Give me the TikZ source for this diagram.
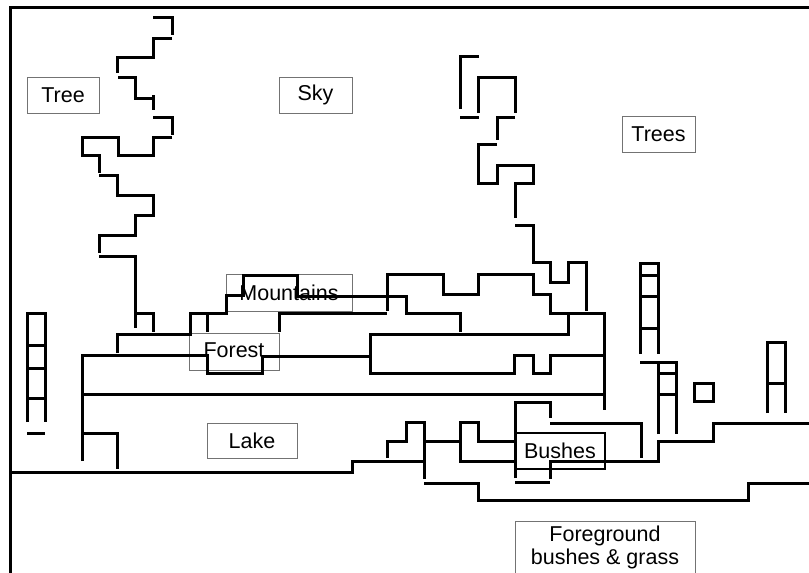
\documentclass[tikz,border=0pt]{standalone}
\usepackage{fontspec}
\setmainfont{Liberation Sans}
\begin{document}
\begin{tikzpicture}[x=1pt,y=-1pt,line width=3pt,line join=miter,
				outline/.style={draw=black,line width=3pt},
				lbl/.style={draw=black!55,line width=0.9pt,inner sep=0pt,font=\fontsize{21.5}{23}\selectfont},
				lblbush/.style={lbl,draw=black,line width=2.2pt}]
				
				\useasboundingbox (0,0) rectangle (809,573);
				
				\node[lbl,minimum width=72,minimum height=36] (tree) at (63,95) {Tree};
				\node[lbl,minimum width=73,minimum height=36] (sky) at (315.5,95) {Sky};
				\node[lbl,minimum width=73,minimum height=36] (trees) at (658.5,134) {Trees};
				\node[lbl,minimum width=126,minimum height=37] (mountains) at (289,292.5) {Mountains};
				\node[lbl,minimum width=90,minimum height=37] (forest) at (234,351.5) {\raisebox{2pt}{Forest}};
				\node[lbl,minimum width=90,minimum height=35] (lake) at (252,440.5) {Lake};
				\node[lblbush,minimum width=90,minimum height=36] (bushes) at (560,451) {Bushes};
				\node[inner sep=0pt,align=center,font=\fontsize{21.5}{23}\selectfont] (fground) at (605,547) {Foreground\\bushes \& grass};
				\draw[lbl] (515,580) -- (515,521) -- (695,521) -- (695,580);
				
				\draw[outline] (10,573) -- (10,7) -- (809,7);
				\draw[outline] (10,472) -- (352,472) -- (352,461) -- (424,461);
				
				\draw[outline] (153,17) -- (172,17) -- (172,35);
				\draw[outline] (172,38) -- (153,38) -- (153,57) -- (117,57) -- (117,73);
				\draw[outline] (118,77) -- (135,77) -- (135,98) -- (153,98);
				\draw[outline] (153,95) -- (153,110);
				\draw[outline] (153,117) -- (172,117) -- (172,135);
				\draw[outline] (172,137) -- (153,137) -- (153,155) -- (118,155) -- (118,137) -- (82,137) -- (82,155) -- (99,155) -- (99,173);
				\draw[outline] (99,175) -- (117,175) -- (117,195) -- (153,195) -- (153,215) -- (135,215) -- (135,235) -- (99,235) -- (99,253);
				\draw[outline] (99,256) -- (135,256) -- (135,328);
				\draw[outline] (135,313) -- (153,313) -- (153,332);
				
				\draw[outline] (117,353) -- (117,334) -- (190,334) -- (190,313) -- (226,313) -- (226,295) -- (243,295) -- (243,275) -- (297,275) -- (297,296) -- (406,296) -- (406,313) -- (460,313) -- (460,332);
				\draw[outline] (207,313) -- (207,332);
				\draw[outline] (279,332) -- (279,313) -- (387,313);
				\draw[outline] (387,311) -- (387,274) -- (443,274) -- (443,294) -- (478,294) -- (478,274) -- (533,274) -- (533,294) -- (550,294) -- (550,313) -- (604,313) -- (604,410);
				
				\draw[outline] (82,461) -- (82,355) -- (207,355) -- (207,373) -- (262,373) -- (262,356) -- (370,356);
				\draw[outline] (568,313) -- (568,334) -- (370,334) -- (370,373) -- (514,373) -- (514,355) -- (533,355) -- (533,373) -- (550,373) -- (550,355) -- (604,355);
				\draw[outline] (82,394) -- (604,394);
				\draw[outline] (82,433) -- (117,433) -- (117,469);
				
				\draw[outline] (479,56) -- (460,56) -- (460,109);
				\draw[outline] (460,117) -- (479,117);
				\draw[outline] (478,113) -- (478,77) -- (515,77) -- (515,113);
				\draw[outline] (515,117) -- (497,117) -- (497,140);
				\draw[outline] (497,144) -- (478,144) -- (478,183) -- (497,183) -- (497,165) -- (533,165) -- (533,183) -- (515,183) -- (515,218);
				\draw[outline] (515,225) -- (533,225) -- (533,262) -- (550,262) -- (550,282) -- (568,282) -- (568,262) -- (586,262) -- (586,311);
				
				\draw[outline] (387,458) -- (387,441) -- (406,441) -- (406,422) -- (424,422) -- (424,479);
				\draw[outline] (424,441) -- (460,441);
				\draw[outline] (515,441) -- (478,441) -- (478,422) -- (460,422) -- (460,461) -- (515,461);
				\draw[outline] (515,478) -- (515,402) -- (550,402) -- (550,418);
				\draw[outline] (550,423) -- (641,423) -- (641,458);
				\draw[outline] (550,479) -- (550,461) -- (658,461) -- (658,441) -- (713,441) -- (713,423) -- (809,423);
				\draw[outline] (515,482) -- (550,482);
				\draw[outline] (424,483) -- (478,483) -- (478,500) -- (748,500) -- (748,483) -- (809,483);
				
				\draw[outline] (27,422) -- (27,313) -- (45,313) -- (45,422);
				\foreach \y in {345,368,398}{
					\draw[outline] (27,\y) -- (45,\y);
				}
				\draw[outline] (27,433) -- (45,433);
				
				\draw[outline] (640,354) -- (640,263) -- (658,263) -- (658,354);
				\foreach \y in {275,296,328}{
					\draw[outline] (640,\y) -- (658,\y);
				}
				\draw[outline] (658,434) -- (658,362);
				\draw[outline] (640,362) -- (676,362) -- (676,434);
				\foreach \y in {373,394}{
					\draw[outline] (658,\y) -- (676,\y);
				}
				
				\draw[outline] (694,383) rectangle (713,401);
				
				\draw[outline] (767,413) -- (767,342) -- (785,342) -- (785,413);
				\draw[outline] (767,383) -- (785,383);
				
			\end{tikzpicture}
\end{document}
